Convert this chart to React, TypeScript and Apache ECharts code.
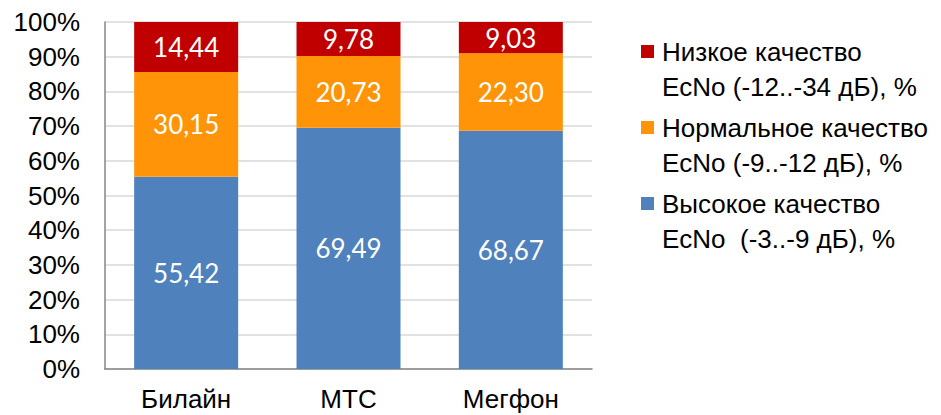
import React, { useEffect, useRef } from "react";
import * as echarts from "echarts";

const categories = ["Билайн", "МТС", "Мегфон"];
const seriesNames = [
  "Высокое качество\nEcNo  (-3..-9 дБ), %",
  "Нормальное качество\nEcNo (-9..-12 дБ), %",
  "Низкое качество\nEcNo (-12..-34 дБ), %",
];
const highValues = [55.42, 69.49, 68.67];
const normalValues = [30.15, 20.73, 22.3];
const lowValues = [14.44, 9.78, 9.03];
const colors = ["#4F81BD", "#FF9408", "#C00000"];
const yTicks = [0, 10, 20, 30, 40, 50, 60, 70, 80, 90, 100];

export default function App() {
  const ref = useRef<HTMLDivElement>(null);
  useEffect(() => {
    if (!ref.current) return;
    const chart = echarts.init(ref.current, undefined, { renderer: "svg" });
    const values = [highValues, normalValues, lowValues];
    const icon = "path://M0,0H13V13H0Z M15.99,47.99H16V48H15.99Z";
    chart.setOption({
      animation: false,
      grid: { left: 105, right: 349, top: 22, bottom: 46, containLabel: false },
      legend: {
        orient: "vertical",
        left: 641,
        top: 34,
        padding: 0,
        itemGap: 6,
        itemWidth: 16,
        itemHeight: 48,
        data: [seriesNames[2], seriesNames[1], seriesNames[0]].map((n) => ({ name: n, icon })),
        textStyle: {
          fontFamily: "Liberation Sans",
          fontSize: 26,
          lineHeight: 35,
          color: "#000",
        },
      },
      xAxis: {
        type: "category",
        data: categories,
        axisLine: { lineStyle: { color: "#868686", width: 1.5 } },
        axisTick: { show: false },
        axisLabel: {
          fontFamily: "Liberation Sans",
          fontSize: 26,
          color: "#000",
          margin: 17,
        },
      },
      yAxis: {
        type: "value",
        min: 0,
        max: 100,
        interval: 10,
        axisLine: { show: true, lineStyle: { color: "#868686", width: 1.5 } },
        axisTick: { show: false },
        splitLine: { lineStyle: { color: "#D9D9D9", width: 1.5 } },
        axisLabel: {
          fontFamily: "Liberation Sans",
          fontSize: 26,
          color: "#000",
          margin: 25,
          formatter: (v: number) => (yTicks.includes(v) ? v + "%" : ""),
        },
      },
      series: seriesNames.map((name, i) => ({
        name,
        type: "bar",
        stack: "total",
        barWidth: 104,
        data: values[i],
        itemStyle: { color: colors[i] },
        label: {
          show: true,
          position: "inside",
          color: "#fff",
          fontFamily: "Lato",
          fontSize: 26,
          formatter: (p: any) => p.value.toFixed(2).replace(".", ","),
        },
      })),
    });
    return () => chart.dispose();
  }, []);
  return <div ref={ref} style={{ width: 941, height: 415, position: "absolute", left: 0, top: 0 }} />;
}
